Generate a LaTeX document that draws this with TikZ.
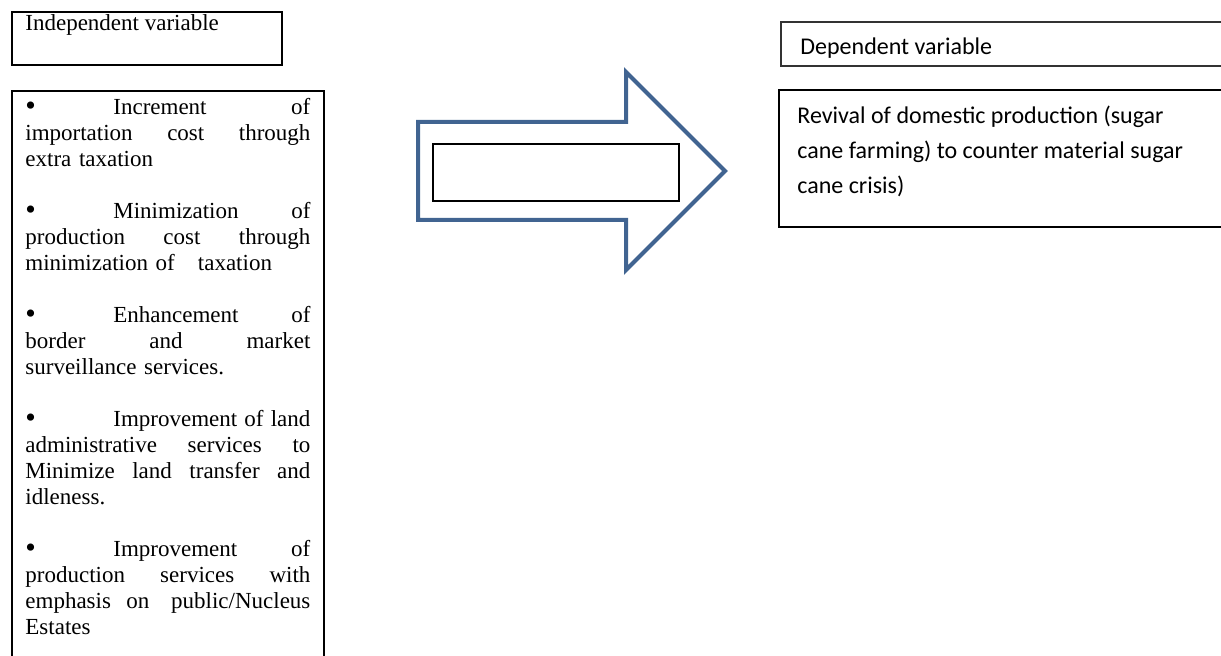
\documentclass[tikz,border=0pt]{standalone}
\usepackage{fontspec}
\setmainfont{Liberation Serif}
\newfontfamily\sansfont{Carlito}
\usepackage{tikz}
\usetikzlibrary{positioning}
\definecolor{arrowblue}{RGB}{65,100,145}
\newcommand{\jline}[1]{\leavevmode\hbox to 142.5pt{#1}}
\newcommand{\bitem}[1]{\makebox[44pt][l]{\raisebox{-0.3pt}{\fontsize{15}{13}\selectfont\textbullet}}#1}

\begin{document}
\begin{tikzpicture}[
    x=0.5pt, y=-0.5pt,
    box_node/.style={draw, line width=1pt, inner sep=0pt, anchor=north west},
    thin_box/.style={draw, line width=0.8pt, inner sep=0pt, anchor=north west},
    serif_text/.style={inner sep=0pt, font=\fontsize{11.5}{13}\selectfont},
    sans_text/.style={inner sep=0pt, font=\sansfont\fontsize{12}{17.5}\selectfont}
    ]
    \useasboundingbox (0,0) rectangle (1221,656);

    % Left side: independent variable
    \node[box_node, minimum width=135pt, minimum height=26.5pt] (indep) at (11,11) {};
    \node[serif_text, anchor=base west] (indep_label) at (25,31) {Independent variable};
    \node[box_node, minimum width=156pt, minimum height=290pt] (factors) at (11,90) {};
    \node[serif_text, anchor=north west, text width=142.5pt, align=left] (factor_list) at (25,98) {%
        \jline{\bitem{Increment}\hfill of}\\
        \jline{importation\hfill cost\hfill through}\\
        extra taxation\\[13pt]
        \jline{\bitem{Minimization}\hfill of}\\
        \jline{production\hfill cost\hfill through}\\
        minimization of\ \ \ taxation\\[13pt]
        \jline{\bitem{Enhancement}\hfill of}\\
        \jline{border\hfill and\hfill market}\\
        surveillance services.\\[13pt]
        \jline{\bitem{Improvement}\hfill of\hfill land}\\
        \jline{administrative\hfill services\hfill to}\\
        \jline{Minimize\hfill land\hfill transfer\hfill and}\\
        idleness.\\[13pt]
        \jline{\bitem{Improvement}\hfill of}\\
        \jline{production\hfill services\hfill with}\\
        \jline{emphasis\ \ on\hfill public/Nucleus}\\
        Estates};

    % Middle: block arrow with empty box
    \draw[arrowblue, line width=2pt, line join=miter]
        (418,122) -- (626,122) -- (626,72) -- (725,171) -- (626,270)
        -- (626,220) -- (418,220) -- cycle;
    \node[thin_box, minimum width=123pt, minimum height=28.5pt] (inner) at (432,143) {};

    % Right side: dependent variable
    \node[box_node, draw=black!80, minimum width=225pt, minimum height=22pt] (dep) at (780,21) {};
    \node[sans_text, anchor=base west] (dep_label) at (800,55) {Dependent variable};
    \node[box_node, minimum width=226pt, minimum height=68.5pt] (outcome) at (778,89) {};
    \node[sans_text, anchor=north west, align=left] (outcome_text) at (797,106) {%
        Revival of domestic production (sugar\\
        cane farming) to counter material sugar\\
        cane crisis)};
\end{tikzpicture}
\end{document}
